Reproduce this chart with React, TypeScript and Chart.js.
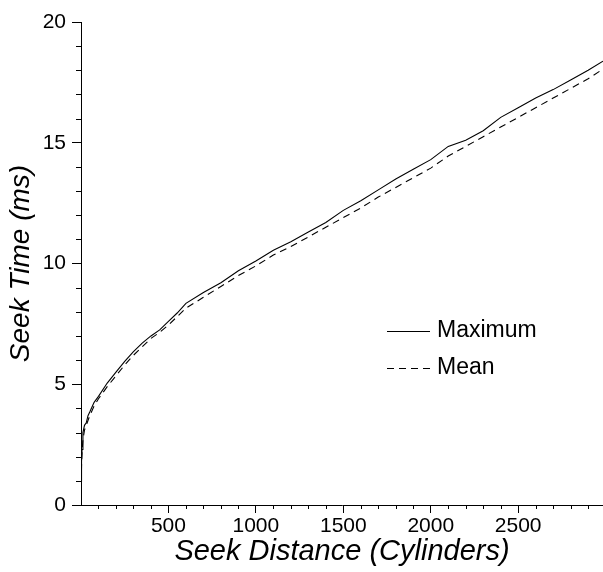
import React, { useEffect, useRef } from "react";
import { Chart, registerables } from "chart.js";

Chart.register(...registerables);

const distances = [1, 3, 6, 11, 20, 30, 40, 50, 75, 100, 150, 200, 250, 300, 350, 400, 450, 500, 550, 600, 700, 800, 900, 1000, 1100, 1200, 1300, 1400, 1500, 1600, 1700, 1800, 1900, 2000, 2100, 2200, 2300, 2400, 2500, 2600, 2700, 2800, 2900, 2985];
const maxTimes = [1.0, 1.8, 2.3, 3.0, 3.3, 3.4, 3.7, 3.85, 4.25, 4.5, 5.05, 5.5, 5.95, 6.35, 6.7, 7.0, 7.25, 7.6, 7.95, 8.35, 8.8, 9.2, 9.7, 10.1, 10.55, 10.9, 11.3, 11.7, 12.2, 12.6, 13.05, 13.5, 13.9, 14.3, 14.85, 15.1, 15.5, 16.05, 16.45, 16.85, 17.2, 17.6, 18.0, 18.38];
const meanTimes = [0.9, 1.6, 2.2, 2.7, 3.1, 3.3, 3.5, 3.7, 4.1, 4.4, 4.9, 5.35, 5.8, 6.2, 6.55, 6.9, 7.15, 7.45, 7.8, 8.15, 8.6, 9.05, 9.5, 9.9, 10.35, 10.7, 11.1, 11.5, 11.9, 12.3, 12.75, 13.15, 13.55, 13.95, 14.45, 14.85, 15.25, 15.65, 16.05, 16.45, 16.85, 17.25, 17.65, 18.05];
const seriesLabels = ["Maximum", "Mean"];
const xMajorTicks = [500, 1000, 1500, 2000, 2500];
const yMajorTicks = [0, 5, 10, 15, 20];
const xMax = 2985;

const FONT = "'Liberation Sans', Arial, sans-serif";

const minorTicksPlugin = {
  id: "minorTicks",
  afterDraw(chart: any) {
    const { ctx, scales } = chart;
    const xs = scales.x;
    const ys = scales.y;
    ctx.save();
    ctx.strokeStyle = "#000";
    ctx.lineWidth = 1;
    ctx.beginPath();
    for (let v = 100; v < xMax; v += 100) {
      if (v % 500 === 0) continue;
      const px = Math.round(xs.getPixelForValue(v)) + 0.5;
      ctx.moveTo(px, ys.bottom);
      ctx.lineTo(px, ys.bottom + 4);
    }
    for (let v = 1; v < 20; v += 1) {
      if (v % 5 === 0) continue;
      const py = Math.round(ys.getPixelForValue(v)) + 0.5;
      ctx.moveTo(xs.left - 5, py);
      ctx.lineTo(xs.left, py);
    }
    ctx.stroke();

    // legend
    const datasets = chart.data.datasets;
    const lx0 = 387;
    const lx1 = 430;
    const rows = [331, 368];
    ctx.font = `23px ${FONT}`;
    ctx.textBaseline = "middle";
    ctx.textAlign = "left";
    ctx.fillStyle = "#000";
    datasets.forEach((ds: any, i: number) => {
      const y = rows[i] + 0.5;
      ctx.beginPath();
      ctx.setLineDash(ds.borderDash || []);
      ctx.lineWidth = 1;
      ctx.moveTo(lx0, y);
      ctx.lineTo(lx1, y);
      ctx.stroke();
      ctx.setLineDash([]);
      ctx.fillText(ds.label, 437, rows[i]);
    });
    ctx.restore();
  },
};

export default function App() {
  const ref = useRef<HTMLCanvasElement | null>(null);
  useEffect(() => {
    if (!ref.current) return;
    const chart = new Chart(ref.current, {
      type: "line",
      data: {
        datasets: [
          {
            label: seriesLabels[0],
            data: distances.map((d, i) => ({ x: d, y: maxTimes[i] })),
            borderColor: "#000",
            borderWidth: 1.1,
            pointRadius: 0,
            fill: false,
            tension: 0,
          },
          {
            label: seriesLabels[1],
            data: distances.map((d, i) => ({ x: d, y: meanTimes[i] })),
            borderColor: "#000",
            borderWidth: 1.1,
            borderDash: [7, 5],
            pointRadius: 0,
            fill: false,
            tension: 0,
          },
        ],
      },
      options: {
        responsive: false,
        animation: false,
        layout: { padding: { top: 22, right: 0, left: 0, bottom: 0 } },
        plugins: {
          legend: { display: false },
          tooltip: { enabled: false },
        },
        scales: {
          x: {
            type: "linear",
            min: 0,
            max: xMax,
            afterBuildTicks: (scale: any) => {
              scale.ticks = xMajorTicks.map((v) => ({ value: v }));
            },
            afterFit: (scale: any) => {
              scale.height = 67;
            },
            grid: {
              display: true,
              drawOnChartArea: false,
              drawTicks: true,
              tickLength: 8,
              tickColor: "#000",
              color: "#000",
            },
            border: { display: true, color: "#000", width: 1 },
            ticks: {
              color: "#000",
              font: { family: FONT, size: 21 },
              padding: 1,
              maxRotation: 0,
              autoSkip: false,
              callback: (v: any) => String(v),
            },
            title: {
              display: true,
              text: "Seek Distance (Cylinders)",
              color: "#000",
              font: { family: FONT, size: 29, style: "italic" },
              padding: { top: 0, bottom: 3 },
            },
          },
          y: {
            type: "linear",
            min: 0,
            max: 20,
            afterBuildTicks: (scale: any) => {
              scale.ticks = yMajorTicks.map((v) => ({ value: v }));
            },
            afterFit: (scale: any) => {
              scale.width = 81;
            },
            grid: {
              display: true,
              drawOnChartArea: false,
              drawTicks: true,
              tickLength: 9,
              tickColor: "#000",
              color: "#000",
            },
            border: { display: true, color: "#000", width: 1 },
            ticks: {
              color: "#000",
              font: { family: FONT, size: 21 },
              padding: 6,
              autoSkip: false,
              callback: (v: any) => String(v),
            },
            title: {
              display: true,
              text: "Seek Time (ms)",
              color: "#000",
              font: { family: FONT, size: 28, style: "italic" },
              padding: { top: 4, bottom: 0 },
            },
          },
        },
      },
      plugins: [minorTicksPlugin],
    });
    return () => chart.destroy();
  }, []);
  return (
    <div style={{ position: "absolute", left: 0, top: 0, width: 603, height: 572, background: "#fff" }}>
      <canvas ref={ref} width={603} height={572} style={{ display: "block" }} />
    </div>
  );
}
